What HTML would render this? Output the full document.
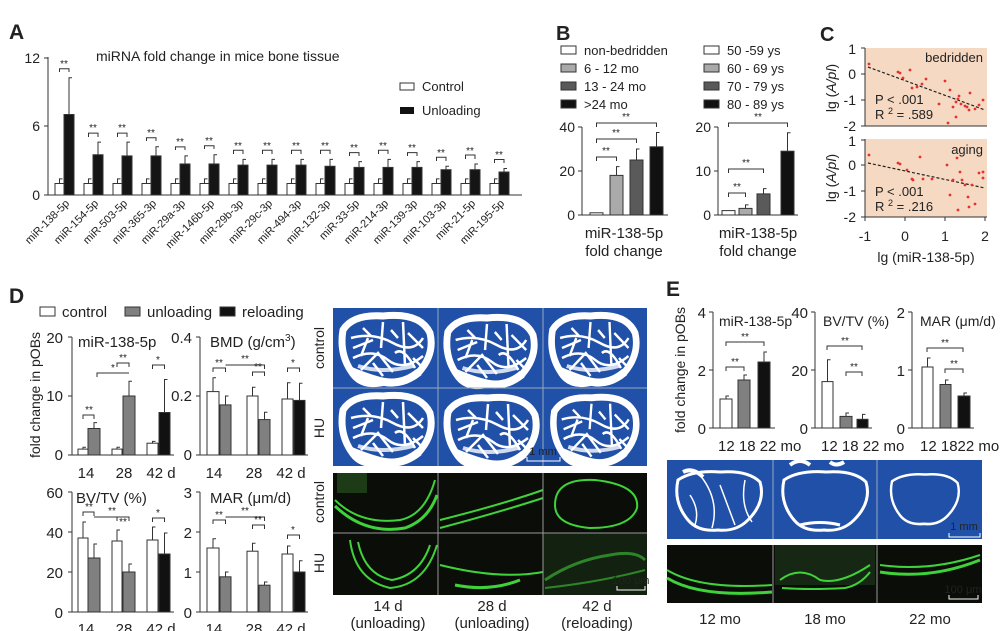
<!DOCTYPE html>
<html><head><meta charset="utf-8"><style>
html,body{margin:0;padding:0;background:#fff}
svg{display:block}
text{font-family:"Liberation Sans",Arial,sans-serif;fill:#222}
</style></head><body>
<svg width="1002" height="631" viewBox="0 0 1002 631" xmlns="http://www.w3.org/2000/svg">
<defs>
<g id="bone" fill="none" stroke="#fff">
<path d="M10,22 Q20,6 50,8 Q87,4 97,25 Q102,46 86,64 Q70,77 52,74 Q28,80 18,63 Q6,45 10,22 Z" stroke-width="7" fill="#2050a8"/>
<path d="M18,30 Q40,24 60,35 T90,30 M20,50 Q40,40 55,52 T90,48 M28,62 L45,45 L60,64 M50,14 L48,40 M70,14 L72,58 M35,30 L28,48 M62,45 Q70,38 82,60 M20,40 L40,32 M75,25 L90,40 M40,55 L50,68 M80,50 L88,58 M30,20 L38,28 M58,22 L65,30" stroke-width="2.5"/>
<path d="M18,63 Q40,72 52,74 Q70,77 86,64" stroke-width="8"/>
<path d="M25,58 Q50,66 80,58" stroke-width="4" stroke-opacity="0.8"/>
</g>
<g id="boneE" fill="none" stroke="#fff">
<path d="M10,18 Q25,8 52,10 Q80,8 92,20 Q98,40 80,58 Q68,70 50,68 Q30,70 20,58 Q5,40 10,18 Z" stroke-width="3" fill="#2050a8"/>
</g>
</defs>

<!-- ===== Panel A ===== -->
<text x="9" y="39" font-size="21" font-weight="bold" fill="#111">A</text>
<text x="96" y="61" font-size="14">miRNA fold change in mice bone tissue</text>
<g stroke="#333" stroke-width="1" fill="none">
<line x1="48" y1="57" x2="48" y2="195"/><line x1="48" y1="195" x2="522" y2="195"/>
<line x1="44" y1="58" x2="48" y2="58"/><line x1="44" y1="126" x2="48" y2="126"/><line x1="44" y1="195" x2="48" y2="195"/>
</g>
<text x="40" y="63" font-size="14" text-anchor="end">12</text>
<text x="40" y="131" font-size="14" text-anchor="end">6</text>
<text x="40" y="200" font-size="14" text-anchor="end">0</text>
<rect x="400" y="83" width="14" height="7" fill="#fff" stroke="#333"/>
<text x="422" y="91" font-size="13">Control</text>
<rect x="400" y="107" width="14" height="7" fill="#111"/>
<text x="422" y="115" font-size="13">Unloading</text>
<g stroke="#333" stroke-width="1">
<g fill="#fff">
<rect x="55" y="183.5" width="9" height="11.5"/><rect x="84" y="183.5" width="9" height="11.5"/><rect x="113" y="183.5" width="9" height="11.5"/><rect x="142" y="183.5" width="9" height="11.5"/><rect x="171" y="183.5" width="9" height="11.5"/><rect x="200" y="183.5" width="9" height="11.5"/><rect x="229" y="183.5" width="9" height="11.5"/><rect x="258" y="183.5" width="9" height="11.5"/><rect x="287" y="183.5" width="9" height="11.5"/><rect x="316" y="183.5" width="9" height="11.5"/><rect x="345" y="183.5" width="9" height="11.5"/><rect x="374" y="183.5" width="9" height="11.5"/><rect x="403" y="183.5" width="9" height="11.5"/><rect x="432" y="183.5" width="9" height="11.5"/><rect x="461" y="183.5" width="9" height="11.5"/><rect x="490" y="183.5" width="9" height="11.5"/>
</g>
<path fill="none" d="M59.5,183.5V178.9h3 M88.5,183.5V178.9h3 M117.5,183.5V178.9h3 M146.5,183.5V178.9h3 M175.5,183.5V178.9h3 M204.5,183.5V178.9h3 M233.5,183.5V178.9h3 M262.5,183.5V178.9h3 M291.5,183.5V178.9h3 M320.5,183.5V178.9h3 M349.5,183.5V178.9h3 M378.5,183.5V178.9h3 M407.5,183.5V178.9h3 M436.5,183.5V178.9h3 M465.5,183.5V178.9h3 M494.5,183.5V178.9h3"/>
<g fill="#151515">
<rect x="64" y="114.5" width="10" height="80.5"/>
<rect x="93" y="154.75" width="10" height="40.25"/>
<rect x="122" y="155.9" width="10" height="39.1"/>
<rect x="151" y="155.9" width="10" height="39.1"/>
<rect x="180" y="163.95" width="10" height="31.05"/>
<rect x="209" y="163.95" width="10" height="31.05"/>
<rect x="238" y="165.1" width="10" height="29.9"/>
<rect x="267" y="165.1" width="10" height="29.9"/>
<rect x="296" y="165.1" width="10" height="29.9"/>
<rect x="325" y="166.25" width="10" height="28.75"/>
<rect x="354" y="167.4" width="10" height="27.6"/>
<rect x="383" y="167.4" width="10" height="27.6"/>
<rect x="412" y="167.4" width="10" height="27.6"/>
<rect x="441" y="169.7" width="10" height="25.3"/>
<rect x="470" y="169.7" width="10" height="25.3"/>
<rect x="499" y="172" width="10" height="23"/>
</g>
<path fill="none" d="M69,114.5V77.7h3 M98,154.75V142.1h3 M127,155.9V142.1h3 M156,155.9V146.7h3 M185,163.95V155.9h3 M214,163.95V154.75h3 M243,165.1V159.35h3 M272,165.1V159.35h3 M301,165.1V159.35h3 M330,166.25V159.35h3 M359,167.4V161.65h3 M388,167.4V159.35h3 M417,167.4V161.65h3 M446,169.7V166.25h3 M475,169.7V163.95h3 M504,172V168.55h3"/>
<path fill="none" d="M59.5,72V68.7H69V72 M88.5,137V133.1H98V137 M117.5,137V133.1H127V137 M146.5,141V137.7H156V141 M175.5,150V146.9H185V150 M204.5,149V145.7H214V149 M233.5,154V150.3H243V154 M262.5,154V150.3H272V154 M291.5,154V150.3H301V154 M320.5,154V150.3H330V154 M349.5,156V152.6H359V156 M378.5,154V150.3H388V154 M407.5,156V152.6H417V156 M436.5,161V157.2H446V161 M465.5,159V155H475V159 M494.5,163V159.5H504V163"/>
</g>
<g font-size="10" text-anchor="middle">
<text x="64" y="67">**</text><text x="93" y="131">**</text><text x="122" y="131">**</text><text x="151" y="136">**</text><text x="180" y="145">**</text><text x="209" y="144">**</text><text x="238" y="149">**</text><text x="267" y="149">**</text><text x="296" y="149">**</text><text x="325" y="149">**</text><text x="354" y="151">**</text><text x="383" y="149">**</text><text x="412" y="151">**</text><text x="441" y="156">**</text><text x="470" y="154">**</text><text x="499" y="158">**</text>
</g>
<g font-size="11" text-anchor="end">
<text transform="translate(70,204) rotate(-45)">miR-138-5p</text>
<text transform="translate(99,204) rotate(-45)">miR-154-5p</text>
<text transform="translate(128,204) rotate(-45)">miR-503-5p</text>
<text transform="translate(157,204) rotate(-45)">miR-365-3p</text>
<text transform="translate(186,204) rotate(-45)">miR-29a-3p</text>
<text transform="translate(215,204) rotate(-45)">miR-146b-5p</text>
<text transform="translate(244,204) rotate(-45)">miR-29b-3p</text>
<text transform="translate(273,204) rotate(-45)">miR-29c-3p</text>
<text transform="translate(302,204) rotate(-45)">miR-494-3p</text>
<text transform="translate(331,204) rotate(-45)">miR-132-3p</text>
<text transform="translate(360,204) rotate(-45)">miR-33-5p</text>
<text transform="translate(389,204) rotate(-45)">miR-214-3p</text>
<text transform="translate(418,204) rotate(-45)">miR-139-3p</text>
<text transform="translate(447,204) rotate(-45)">miR-103-3p</text>
<text transform="translate(476,204) rotate(-45)">miR-21-5p</text>
<text transform="translate(505,204) rotate(-45)">miR-195-5p</text>
</g>

<!-- ===== Panel B ===== -->
<text x="556" y="40" font-size="20" font-weight="bold" fill="#111">B</text>
<g stroke="#333" stroke-width="1">
<rect x="561" y="46" width="15" height="8" fill="#fff"/>
<rect x="561" y="64" width="15" height="8" fill="#aaa"/>
<rect x="561" y="82" width="15" height="8" fill="#5a5a5a"/>
<rect x="561" y="100" width="15" height="8" fill="#111"/>
<rect x="704" y="46" width="15" height="8" fill="#fff"/>
<rect x="704" y="64" width="15" height="8" fill="#aaa"/>
<rect x="704" y="82" width="15" height="8" fill="#5a5a5a"/>
<rect x="704" y="100" width="15" height="8" fill="#111"/>
</g>
<g font-size="13">
<text x="584" y="55">non-bedridden</text><text x="584" y="73">6 - 12 mo</text><text x="584" y="91">13 - 24 mo</text><text x="584" y="109">&gt;24 mo</text>
<text x="727" y="55">50 -59 ys</text><text x="727" y="73">60 - 69 ys</text><text x="727" y="91">70 - 79 ys</text><text x="727" y="109">80 - 89 ys</text>
</g>
<g stroke="#333" stroke-width="1" fill="none">
<path d="M582,127V215H668 M578,127H582 M578,171H582 M578,215H582"/>
<path d="M718,127V215H798 M714,127H718 M714,171H718 M714,215H718"/>
</g>
<g font-size="14" text-anchor="end"><text x="575" y="132">40</text><text x="575" y="176">20</text><text x="575" y="220">0</text>
<text x="711" y="132">20</text><text x="711" y="176">10</text><text x="711" y="220">0</text></g>
<g stroke="#333" stroke-width="1">
<rect x="590" y="212.8" width="13" height="2.2" fill="#fff"/>
<rect x="610" y="175.4" width="13" height="39.6" fill="#aaa"/>
<rect x="630" y="160" width="13" height="55" fill="#5a5a5a"/>
<rect x="650" y="146.8" width="13" height="68.2" fill="#111"/>
<rect x="722" y="210.6" width="13" height="4.4" fill="#fff"/>
<rect x="739" y="208.4" width="13" height="6.6" fill="#aaa"/>
<rect x="757" y="193.9" width="13" height="21.1" fill="#5a5a5a"/>
<rect x="781" y="151.2" width="13" height="63.8" fill="#111"/>
<path fill="none" d="M616.5,175.4V166.6h3 M636.5,160V149h3 M656.5,146.8V132.5h3 M745.5,208.4V204.9h3 M763.5,193.9V188.6h3 M787.5,151.2V132.7h3
M596.5,127V123H656.5V127 M596.5,143V139H636.5V143 M596.5,161V157H616.5V161
M728.5,127V123H787.5V127 M728.5,173V169H763.5V173 M728.5,197V193H745.5V197"/>
</g>
<g font-size="10" text-anchor="middle"><text x="626" y="120">**</text><text x="616" y="136">**</text><text x="606" y="154">**</text>
<text x="758" y="120">**</text><text x="746" y="166">**</text><text x="737" y="190">**</text></g>
<g font-size="15" text-anchor="middle"><text x="624" y="238">miR-138-5p</text><text x="624" y="256">fold change</text>
<text x="758" y="238">miR-138-5p</text><text x="758" y="256">fold change</text></g>

<!-- ===== Panel C ===== -->
<text x="820" y="41" font-size="20" font-weight="bold" fill="#111">C</text>
<rect x="865" y="48" width="122" height="78" fill="#f6d9c2"/>
<rect x="865" y="139" width="122" height="78" fill="#f6d9c2"/>
<g stroke="#333" stroke-width="1" fill="none">
<path d="M865,48V126H987 M861,48H865 M861,74H865 M861,100H865 M861,126H865"/>
<path d="M865,139V217H987 M861,140H865 M861,165H865 M861,191H865 M861,217H865 M865,217V221 M905,217V221 M945,217V221 M985,217V221"/>
</g>
<g font-size="14" text-anchor="end"><text x="856" y="54">1</text><text x="856" y="79">0</text><text x="856" y="105">-1</text><text x="856" y="131">-2</text>
<text x="856" y="146">1</text><text x="856" y="170">0</text><text x="856" y="196">-1</text><text x="856" y="222">-2</text></g>
<g font-size="14" text-anchor="middle"><text x="865" y="241">-1</text><text x="905" y="241">0</text><text x="945" y="241">1</text><text x="985" y="241">2</text>
<text x="926" y="262">lg (miR-138-5p)</text></g>
<text transform="translate(836,88) rotate(-90)" font-size="14" text-anchor="middle">lg (<tspan font-style="italic">A/pl</tspan>)</text>
<text transform="translate(836,178) rotate(-90)" font-size="14" text-anchor="middle">lg (<tspan font-style="italic">A/pl</tspan>)</text>
<text x="983" y="62" font-size="13" text-anchor="end" fill="#333">bedridden</text>
<text x="983" y="154" font-size="13" text-anchor="end" fill="#333">aging</text>
<g font-size="13" fill="#5a78b8"><text x="875" y="104" fill="#5a78b8">P &lt; .001</text><text x="875" y="119" fill="#5a78b8">R <tspan font-size="9" dy="-5">2</tspan><tspan dy="5"> = .589</tspan></text>
<text x="875" y="196" fill="#5a78b8">P &lt; .001</text><text x="875" y="211" fill="#5a78b8">R <tspan font-size="9" dy="-5">2</tspan><tspan dy="5"> = .216</tspan></text></g>
<line x1="868" y1="67" x2="985" y2="110" stroke="#222" stroke-dasharray="3,2" stroke-width="1.2"/>
<line x1="868" y1="163" x2="985" y2="188" stroke="#222" stroke-dasharray="3,2" stroke-width="1.2"/>
<g fill="#e83030">
<circle cx="869" cy="64" r="1.4"/><circle cx="898" cy="72" r="1.4"/><circle cx="900" cy="73" r="1.4"/><circle cx="910" cy="70" r="1.4"/><circle cx="903" cy="78" r="1.4"/><circle cx="912" cy="88" r="1.4"/><circle cx="917" cy="87" r="1.4"/><circle cx="922" cy="84" r="1.4"/><circle cx="926" cy="79" r="1.4"/><circle cx="945" cy="81" r="1.4"/><circle cx="950" cy="90" r="1.4"/><circle cx="958" cy="99" r="1.4"/><circle cx="939" cy="104" r="1.4"/><circle cx="953" cy="107" r="1.4"/><circle cx="956" cy="102" r="1.4"/><circle cx="959" cy="96" r="1.4"/><circle cx="961" cy="104" r="1.4"/><circle cx="965" cy="106" r="1.4"/><circle cx="967" cy="107" r="1.4"/><circle cx="970" cy="93" r="1.4"/><circle cx="975" cy="109" r="1.4"/><circle cx="979" cy="105" r="1.4"/><circle cx="983" cy="100" r="1.4"/><circle cx="956" cy="117" r="1.4"/><circle cx="948" cy="123" r="1.4"/><circle cx="969" cy="110" r="1.4"/>
<circle cx="869" cy="155" r="1.4"/><circle cx="898" cy="163" r="1.4"/><circle cx="900" cy="164" r="1.4"/><circle cx="907" cy="170" r="1.4"/><circle cx="912" cy="179" r="1.4"/><circle cx="913" cy="180" r="1.4"/><circle cx="920" cy="157" r="1.4"/><circle cx="923" cy="179" r="1.4"/><circle cx="932" cy="179" r="1.4"/><circle cx="947" cy="165" r="1.4"/><circle cx="950" cy="195" r="1.4"/><circle cx="957" cy="158" r="1.4"/><circle cx="962" cy="180" r="1.4"/><circle cx="960" cy="172" r="1.4"/><circle cx="953" cy="180" r="1.4"/><circle cx="965" cy="185" r="1.4"/><circle cx="968" cy="197" r="1.4"/><circle cx="972" cy="185" r="1.4"/><circle cx="975" cy="204" r="1.4"/><circle cx="969" cy="207" r="1.4"/><circle cx="983" cy="172" r="1.4"/><circle cx="979" cy="173" r="1.4"/><circle cx="983" cy="178" r="1.4"/><circle cx="958" cy="210" r="1.4"/>
</g>

<!-- ===== Panel D ===== -->
<text x="9" y="303" font-size="21" font-weight="bold" fill="#111">D</text>
<g stroke="#333" stroke-width="1"><rect x="40" y="307" width="15" height="9" fill="#fff"/><rect x="125" y="307" width="15" height="9" fill="#808080"/><rect x="220" y="307" width="15" height="9" fill="#111"/></g>
<g font-size="15"><text x="62" y="317">control</text><text x="147" y="317">unloading</text><text x="242" y="317">reloading</text></g>
<text transform="translate(40,395) rotate(-90)" font-size="14" text-anchor="middle">fold change in pOBs</text>
<g stroke="#333" stroke-width="1" fill="none">
<path d="M72,337V455H174 M68,337H72 M68,396H72 M68,455H72"/>
<path d="M200,337V455H308 M196,337H200 M196,396H200 M196,455H200"/>
<path d="M72,492V612H174 M68,492H72 M68,532H72 M68,572H72 M68,612H72"/>
<path d="M200,492V612H308 M196,492H200 M196,532H200 M196,572H200 M196,612H200"/>
</g>
<g font-size="15" text-anchor="end">
<text x="63" y="343">20</text><text x="63" y="401">10</text><text x="63" y="460">0</text>
<text x="192" y="343">0.4</text><text x="192" y="401">0.2</text><text x="192" y="460">0</text>
<text x="63" y="498">60</text><text x="63" y="538">40</text><text x="63" y="578">20</text><text x="63" y="618">0</text>
<text x="192" y="498">3</text><text x="192" y="538">2</text><text x="192" y="578">1</text><text x="192" y="618">0</text>
</g>
<g font-size="15" text-anchor="middle">
<text x="86" y="478">14</text><text x="124" y="478">28</text><text x="161" y="478">42 d</text>
<text x="214" y="478">14</text><text x="254" y="478">28</text><text x="291" y="478">42 d</text>
<text x="86" y="634">14</text><text x="124" y="634">28</text><text x="161" y="634">42 d</text>
<text x="214" y="634">14</text><text x="254" y="634">28</text><text x="291" y="634">42 d</text>
</g>
<g font-size="15"><text x="78" y="347">miR-138-5p</text><text x="210" y="347">BMD (g/cm<tspan font-size="10" dy="-6">3</tspan><tspan dy="6">)</tspan></text>
<text x="76" y="503">BV/TV (%)</text><text x="210" y="503">MAR (μm/d)</text></g>
<g stroke="#333" stroke-width="1">
<rect x="78" y="449.1" width="10" height="5.9" fill="#fff"/><rect x="88" y="428.5" width="12" height="26.5" fill="#808080"/>
<rect x="112" y="449.1" width="10" height="5.9" fill="#fff"/><rect x="123" y="396" width="12" height="59" fill="#808080"/>
<rect x="147" y="443.2" width="11" height="11.8" fill="#fff"/><rect x="159" y="412.5" width="11" height="42.5" fill="#111"/>
<rect x="207" y="391.6" width="12" height="63.4" fill="#fff"/><rect x="220" y="404.9" width="11" height="50.1" fill="#808080"/>
<rect x="247" y="396" width="11" height="59" fill="#fff"/><rect x="259" y="419.6" width="11" height="35.4" fill="#808080"/>
<rect x="282" y="399" width="11" height="56" fill="#fff"/><rect x="294" y="400.4" width="11" height="54.6" fill="#111"/>
<rect x="78" y="538" width="10" height="74" fill="#fff"/><rect x="88" y="558" width="12" height="54" fill="#808080"/>
<rect x="112" y="541" width="10" height="71" fill="#fff"/><rect x="123" y="572" width="12" height="40" fill="#808080"/>
<rect x="147" y="540" width="11" height="72" fill="#fff"/><rect x="159" y="554" width="11" height="58" fill="#111"/>
<rect x="207" y="548" width="12" height="64" fill="#fff"/><rect x="220" y="576.8" width="11" height="35.2" fill="#808080"/>
<rect x="247" y="551.2" width="11" height="60.8" fill="#fff"/><rect x="259" y="585.2" width="11" height="26.8" fill="#808080"/>
<rect x="282" y="554" width="11" height="58" fill="#fff"/><rect x="294" y="572" width="11" height="40" fill="#111"/>
<path fill="none" d="M83,449.1V447.3h3 M94,428.5V422.6h3 M117,449.1V447.3h3 M129,396V381.3h3 M152.5,443.2V441.4h3 M164.5,412.5V379.5h3
M213,391.6V377.7h3 M225.5,404.9V396h3 M252.5,396V387.2h3 M264.5,419.6V412.2h3 M287.5,399V382.7h3 M299.5,400.4V383.3h3
M83,538V522h3 M94,558V544h3 M117,541V530h3 M129,572V564h3 M152.5,540V527h3 M164.5,554V533h3
M213,548V538.8h3 M225.5,576.8V572h3 M252.5,551.2V543.2h3 M264.5,585.2V582h3 M287.5,554V546h3 M299.5,572V560.8h3
M83,419V415H94V419 M117,367V363H129V367 M97,377V373H129 M152.5,369V365H164.5V369
M213,372V368H225.5V372 M225.5,365H264.5V369 M252.5,376V372H264.5V376 M287.5,372V368H299.5V372
M83,516V512H94V516 M94,517H129V521 M117,521V517H129V521 M152.5,522V518H164.5V522
M213,524V520H225.5V524 M225.5,517H264.5V521 M252.5,529V525H264.5V529 M287.5,539V535H299.5V539"/>
</g>
<g font-size="10" text-anchor="middle">
<text x="89" y="413">**</text><text x="123" y="361">**</text><text x="113" y="371">*</text><text x="158" y="363">*</text>
<text x="219" y="366">**</text><text x="245" y="362">**</text><text x="258" y="370">**</text><text x="293" y="366">*</text>
<text x="89" y="510">**</text><text x="112" y="514">**</text><text x="123" y="525">**</text><text x="158" y="516">*</text>
<text x="219" y="518">**</text><text x="245" y="514">**</text><text x="258" y="523">**</text><text x="293" y="533">*</text>
</g>
<g font-size="14" text-anchor="middle">
<text transform="translate(324,348) rotate(-90)">control</text>
<text transform="translate(324,428) rotate(-90)">HU</text>
<text transform="translate(324,502) rotate(-90)">control</text>
<text transform="translate(324,563) rotate(-90)">HU</text>
</g>
<rect x="333" y="308" width="314" height="158" fill="#2050a8"/>
<use href="#bone" transform="translate(333,308)"/>
<use href="#bone" transform="translate(438,310) scale(0.98,1)"/>
<use href="#bone" transform="translate(543,308) scale(0.95,1)"/>
<use href="#bone" transform="translate(333,388)"/>
<use href="#bone" transform="translate(438,390)"/>
<use href="#bone" transform="translate(545,390) scale(0.93,0.98)"/>
<g stroke="#9ab" stroke-width="1"><line x1="438" y1="308" x2="438" y2="466"/><line x1="543" y1="308" x2="543" y2="466"/><line x1="333" y1="388" x2="647" y2="388"/></g>
<path d="M527,457V461H560V457" stroke="#fff" fill="none"/>
<text x="543" y="455" font-size="11" text-anchor="middle" fill="#fff">1 mm</text>
<rect x="333" y="473" width="314" height="122" fill="#0b0d08"/>
<g fill="none" stroke="#3fd23a" stroke-width="2">
<path d="M335,500 Q360,525 400,520 Q425,515 435,480"/><path d="M335,506 Q365,535 405,528 Q428,520 437,495" stroke-width="3"/>
<path d="M440,520 Q500,505 543,490"/><path d="M440,528 Q500,512 543,498"/>
<path d="M555,505 Q555,478 595,480 Q640,485 637,508 Q630,528 590,528 Q555,525 555,505 Z"/>
<path d="M350,540 Q355,580 390,588 Q425,585 437,545"/><path d="M358,542 Q365,575 392,580 Q420,575 430,545"/>
<path d="M440,565 Q500,580 543,572"/><path d="M455,585 Q490,592 520,580" stroke-width="3"/>
<path d="M545,580 Q575,560 610,555 Q635,550 645,560" stroke-width="3"/><path d="M545,588 Q600,582 645,570"/>
</g>
<path d="M337,473 h30 v20 h-30z" fill="#2a5a22" opacity="0.6"/>
<rect x="543" y="533" width="104" height="62" fill="#1b3518" opacity="0.5"/>
<g stroke="#999" stroke-width="1"><line x1="438" y1="473" x2="438" y2="595"/><line x1="543" y1="473" x2="543" y2="595"/><line x1="333" y1="533" x2="647" y2="533"/></g>
<path d="M617,586V590H645V586" stroke="#fff" fill="none"/>
<text x="631" y="584" font-size="11" text-anchor="middle" fill="#fff">100 μm</text>
<g font-size="15" text-anchor="middle">
<text x="388" y="611">14 d</text><text x="388" y="628">(unloading)</text>
<text x="492" y="611">28 d</text><text x="492" y="628">(unloading)</text>
<text x="597" y="611">42 d</text><text x="597" y="628">(reloading)</text>
</g>

<!-- ===== Panel E ===== -->
<text x="666" y="296" font-size="21" font-weight="bold" fill="#111">E</text>
<text transform="translate(685,370) rotate(-90)" font-size="14" text-anchor="middle">fold change in pOBs</text>
<g stroke="#333" stroke-width="1" fill="none">
<path d="M713,312V428H775 M709,312H713 M709,370H713 M709,428H713"/>
<path d="M815,312V428H872 M811,312H815 M811,370H815 M811,428H815"/>
<path d="M912,312V428H974 M908,312H912 M908,370H912 M908,428H912"/>
</g>
<g font-size="15" text-anchor="end">
<text x="706" y="318">4</text><text x="706" y="376">2</text><text x="706" y="434">0</text>
<text x="808" y="318">40</text><text x="808" y="376">20</text><text x="808" y="434">0</text>
<text x="905" y="318">2</text><text x="905" y="376">1</text><text x="905" y="434">0</text>
</g>
<g font-size="15">
<text x="718" y="451">12 18 22 mo</text><text x="821" y="451">12 18 22 mo</text><text x="920" y="451">12 1822 mo</text>
</g>
<g font-size="14"><text x="719" y="326">miR-138-5p</text><text x="823" y="326">BV/TV (%)</text><text x="920" y="326">MAR (μm/d)</text></g>
<g stroke="#333" stroke-width="1">
<rect x="720" y="399" width="12" height="29" fill="#fff"/><rect x="738" y="380" width="12" height="48" fill="#808080"/><rect x="758" y="362" width="12" height="66" fill="#111"/>
<rect x="822" y="381.6" width="11" height="46.4" fill="#fff"/><rect x="840" y="416.4" width="12" height="11.6" fill="#808080"/><rect x="857" y="419.3" width="11" height="8.7" fill="#111"/>
<rect x="922" y="367" width="11" height="61" fill="#fff"/><rect x="940" y="384.5" width="11" height="43.5" fill="#808080"/><rect x="958" y="396" width="12" height="32" fill="#111"/>
<path fill="none" d="M726,399V396h3 M744,380V375h3 M764,362V352h3 M827.5,381.6V359.8h3 M846,416.4V413h3 M862.5,419.3V414.4h3 M927.5,367V358h3 M945.5,384.5V380h3 M964,396V393h3
M726,371V367H744V371 M726,346V342H764V346 M827,350V346H862V350 M846,376V372H862V376 M927,352V348H963V352 M945,373V369H963V373"/>
</g>
<g font-size="10" text-anchor="middle"><text x="735" y="365">**</text><text x="745" y="340">**</text><text x="845" y="344">**</text><text x="854" y="370">**</text><text x="945" y="346">**</text><text x="954" y="367">**</text></g>
<rect x="667" y="460" width="315" height="79" fill="#2050a8"/>
<use href="#boneE" transform="translate(668,462)"/>
<use href="#boneE" transform="translate(774,462)"/>
<use href="#boneE" transform="translate(884,466) scale(0.8,0.85)"/>
<g fill="none" stroke="#fff" stroke-width="1.5"><path d="M700,475 Q720,500 712,528 M720,485 L735,525 M745,480 Q740,505 752,522 M690,495 Q700,510 695,525"/><path d="M683,472 q10,-5 20,5 M790,465 q10,-8 20,0 M830,462 q6,5 14,0" stroke-width="4"/><path d="M800,525 Q820,520 840,525" stroke-width="3"/></g>
<g stroke="#9ab" stroke-width="1"><line x1="773" y1="460" x2="773" y2="539"/><line x1="877" y1="460" x2="877" y2="539"/></g>
<path d="M949,533V537H980V533" stroke="#fff" fill="none"/>
<text x="964" y="530" font-size="11" text-anchor="middle" fill="#fff">1 mm</text>
<rect x="667" y="545" width="315" height="58" fill="#0b0d08"/>
<rect x="775" y="545" width="100" height="40" fill="#1e3a1a" opacity="0.6"/>
<g fill="none" stroke="#3fd23a" stroke-width="2">
<path d="M667,570 Q700,590 772,585"/><path d="M667,578 Q700,598 772,592" stroke-width="3"/>
<path d="M780,580 Q800,565 820,580 Q840,585 870,565"/><path d="M782,588 Q810,590 845,588 Q860,585 870,572"/>
<path d="M880,565 Q930,572 980,555"/><path d="M880,572 Q930,580 980,560" stroke-width="3"/>
</g>
<g stroke="#999" stroke-width="1"><line x1="773" y1="545" x2="773" y2="603"/><line x1="877" y1="545" x2="877" y2="603"/></g>
<path d="M949,595V599H978V595" stroke="#fff" fill="none"/>
<text x="963" y="593" font-size="11" text-anchor="middle" fill="#fff">100 μm</text>
<g font-size="15" text-anchor="middle"><text x="720" y="624">12 mo</text><text x="825" y="624">18 mo</text><text x="930" y="624">22 mo</text></g>
</svg>
</body></html>
